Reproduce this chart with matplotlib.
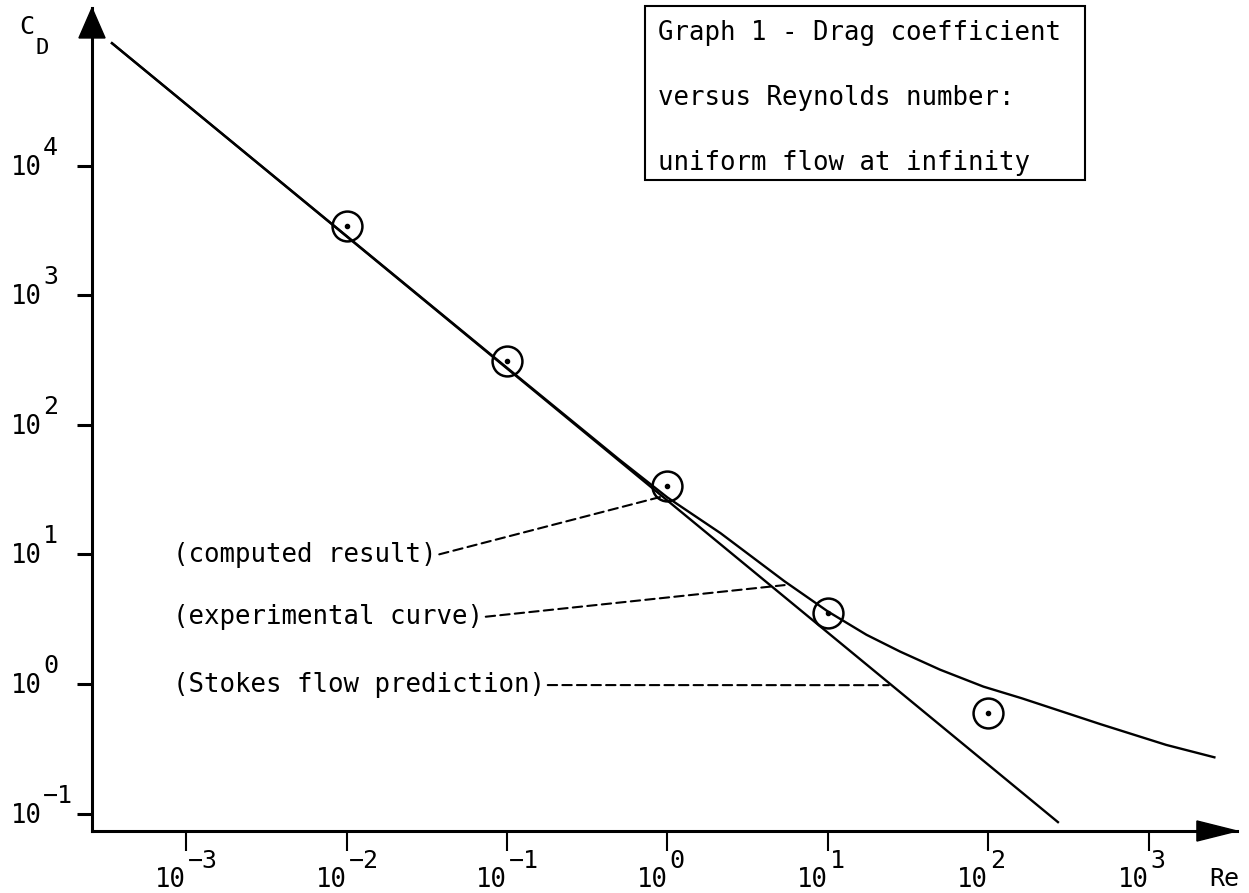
import matplotlib
matplotlib.use("Agg")
import matplotlib.pyplot as plt
from matplotlib.patches import Polygon, Rectangle
from matplotlib.ticker import NullLocator
from matplotlib.transforms import blended_transform_factory, ScaledTranslation

# ---------------- data ----------------
re_computed = [0.01, 0.1, 1.0, 10.0, 100.0]
cd_computed = [3440, 311, 33.7, 3.53, 0.60]

re_experimental = [3.44e-4, 0.1, 0.5, 1.0, 2.14, 5.37, 10.0, 17.4, 28.2,
                   50.1, 93.3, 162, 501, 1288, 2570]
cd_experimental = [8.8e4, 275, 54, 27.5, 14.6, 6.2, 3.63, 2.40, 1.78,
                   1.29, 0.955, 0.776, 0.490, 0.339, 0.272]

re_stokes = [3.44e-4, 272]
cd_stokes = [8.8e4, 0.086]

x_ticks = [1e-3, 1e-2, 1e-1, 1e0, 1e1, 1e2, 1e3]
x_tick_exponents = ["\u22123", "\u22122", "\u22121", "0", "1", "2", "3"]
y_ticks = [1e-1, 1e0, 1e1, 1e2, 1e3, 1e4]
y_tick_exponents = ["\u22121", "0", "1", "2", "3", "4"]
tick_base = "10"

title_lines = ["Graph 1 - Drag coefficient",
               "versus Reynolds number:",
               "uniform flow at infinity"]

# ---------------- style ----------------
plt.rcParams["font.family"] = ["DejaVu Sans Mono", "DejaVu Sans"]

W, H = 1249, 893
fig = plt.figure(figsize=(W / 100, H / 100), dpi=100)
fig.patch.set_facecolor("white")

ax = fig.add_axes([92 / W, (H - 831) / H, (1237 - 92) / W, (831 - 8) / H])
ax.set_xscale("log")
ax.set_yscale("log")
ax.set_xlim(10 ** -3.588, 10 ** 3.551)
ax.set_ylim(10 ** -1.134, 10 ** 5.216)


def px(dx, dy):
    return ScaledTranslation(dx / 100, dy / 100, fig.dpi_scale_trans)


# curves
ax.plot(re_stokes, cd_stokes, color="black", lw=1.7, clip_on=False)
ax.plot(re_experimental, cd_experimental, color="black", lw=1.7,
        clip_on=False)
ax.plot(re_computed, cd_computed, ls="none", marker="o", ms=21.5,
        mfc="none", mec="black", mew=1.8)
ax.plot(re_computed, cd_computed, ls="none", marker="o", ms=3,
        color="black")

# axes
for s in ["top", "right"]:
    ax.spines[s].set_visible(False)
for s in ["left", "bottom"]:
    ax.spines[s].set_linewidth(2.2)
ax.xaxis.set_minor_locator(NullLocator())
ax.yaxis.set_minor_locator(NullLocator())
ax.set_xticks(x_ticks, [""] * len(x_ticks))
ax.set_yticks(y_ticks, [""] * len(y_ticks))
ax.tick_params(axis="x", direction="out", length=14.4, width=1.5)
ax.tick_params(axis="y", direction="out", length=10.8, width=2.2)

# tick labels: base "10" plus raised exponent
BASE_FS, EXP_FS = 18.5, 18
bx = blended_transform_factory(ax.transData, ax.transAxes)
for t, e in zip(x_ticks, x_tick_exponents):
    ax.text(t, 0, tick_base, transform=bx + px(0, -56), ha="right",
            va="baseline", fontsize=BASE_FS)
    ax.text(t, 0, e, transform=bx + px(2, -37), ha="left",
            va="baseline", fontsize=EXP_FS)
by = blended_transform_factory(ax.transAxes, ax.transData)
for t, e in zip(y_ticks, y_tick_exponents):
    ax.text(0, t, tick_base, transform=by + px(-81, -9), ha="left",
            va="baseline", fontsize=BASE_FS)
    ax.text(0, t, e, transform=by + px(-49, 11), ha="left",
            va="baseline", fontsize=EXP_FS)

# arrow heads
ax.add_patch(Polygon([[0.965, -0.0122], [1.0, 0.0], [0.965, 0.0122]],
                     closed=True, transform=ax.transAxes, clip_on=False,
                     facecolor="black", edgecolor="black"))
ax.add_patch(Polygon([[-0.0114, 0.9636], [0.0, 1.0], [0.0114, 0.9636]],
                     closed=True, transform=ax.transAxes, clip_on=False,
                     facecolor="black", edgecolor="black"))

# axis labels
fig.text(27 / W, 1 - 27 / H, "C", fontsize=18, ha="center", va="center")
fig.text(42 / W, 1 - 48 / H, "D", fontsize=16, ha="center", va="center")
fig.text(1224 / W, 1 - 879 / H, "Re", fontsize=18, ha="center", va="center")

# leader annotations
dash = dict(arrowstyle="-", ls=(0, (4.5, 2.5)), lw=1.5, color="black",
            shrinkA=0, shrinkB=0, relpos=(1, 0.5))
ax.annotate("(computed result)", xy=(0.898, 27.7),
            xytext=(8.26e-4, 10 ** 0.995), va="center", ha="left",
            fontsize=18.5, arrowprops=dash)
ax.annotate("(experimental curve)", xy=(5.38, 5.8),
            xytext=(8.26e-4, 10 ** 0.517), va="center", ha="left",
            fontsize=18.5, arrowprops=dash)
ax.annotate("(Stokes flow prediction)", xy=(24.0, 0.98),
            xytext=(8.26e-4, 10 ** -0.008), va="center", ha="left",
            fontsize=18.5, arrowprops=dash)

# title box
fig.add_artist(Rectangle((645 / W, (H - 180) / H), (1085 - 645) / W,
                         (180 - 6) / H, transform=fig.transFigure,
                         fill=False, edgecolor="black", lw=1.5))
for i, line in enumerate(title_lines):
    fig.text(658 / W, 1 - (33 + 65 * i) / H, line, fontsize=18.5,
             ha="left", va="center")

fig.savefig("out.png", dpi=100, facecolor="white")
